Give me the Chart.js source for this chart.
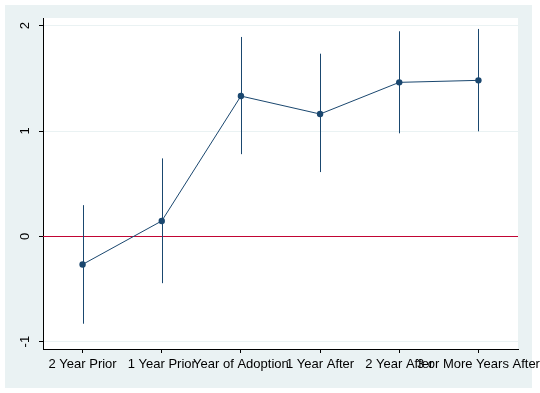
<!DOCTYPE html>
<html><head><meta charset="utf-8">
<script src="https://cdn.jsdelivr.net/npm/chart.js@4"></script>
<style>html,body{margin:0;padding:0;background:#fff}#wrap{width:540px;height:393px}</style>
</head><body><div id="wrap"><canvas id="c" width="540" height="393"></canvas></div>
<script>
const categories = ["2 Year Prior","1 Year Prior","Year of Adoption","1 Year After","2 Year After","3 or More Years After"];
const estimates = [-0.267, 0.146, 1.332, 1.161, 1.462, 1.481];
const ciLower = [-0.83, -0.445, 0.78, 0.61, 0.978, 0.997];
const ciUpper = [0.296, 0.74, 1.893, 1.734, 1.947, 1.969];
const yTicks = [-1, 0, 1, 2];
const refLine = 0;

const navy = '#1a476f';
const font = "'Liberation Sans', Arial, sans-serif";

const bgPlugin = {
  id: 'bg',
  beforeDraw(chart) {
    const ctx = chart.ctx, a = chart.chartArea;
    ctx.save();
    ctx.fillStyle = '#eaf2f3';
    ctx.fillRect(5, 5, 527, 383);
    ctx.fillStyle = '#ffffff';
    ctx.fillRect(a.left, a.top, a.right - a.left, a.bottom - a.top);
    ctx.restore();
  },
  beforeDatasetsDraw(chart) {
    const ctx = chart.ctx, a = chart.chartArea;
    const xs = chart.scales.x, ys = chart.scales.y;
    const y = Math.round(ys.getPixelForValue(refLine)) + 0.5;
    ctx.save();
    ctx.strokeStyle = '#c10534';
    ctx.lineWidth = 1;
    ctx.beginPath(); ctx.moveTo(a.left, y); ctx.lineTo(a.right, y); ctx.stroke();
    // confidence intervals (spikes)
    ctx.strokeStyle = navy;
    ctx.lineWidth = 1;
    categories.forEach((c, i) => {
      const px = Math.round(xs.getPixelForValue(i)) + 0.5;
      ctx.beginPath();
      ctx.moveTo(px, ys.getPixelForValue(ciLower[i]));
      ctx.lineTo(px, ys.getPixelForValue(ciUpper[i]));
      ctx.stroke();
    });
    ctx.restore();
  },
  afterDraw(chart) {
    const ctx = chart.ctx, ys = chart.scales.y;
    ctx.save();
    ctx.fillStyle = '#000';
    ctx.font = '13px ' + font;
    ctx.textAlign = 'center';
    ctx.textBaseline = 'middle';
    yTicks.forEach(v => {
      const py = ys.getPixelForValue(v);
      ctx.save();
      ctx.translate(25, py);
      ctx.rotate(-Math.PI / 2);
      ctx.fillText(String(v), 0, 0);
      ctx.restore();
    });
    ctx.restore();
  }
};

new Chart(document.getElementById('c'), {
  data: {
    labels: categories,
    datasets: [
      {
        type: 'line',
        data: estimates,
        borderColor: navy,
        backgroundColor: navy,
        borderWidth: 1,
        pointRadius: 3.2,
        pointBackgroundColor: navy,
        pointBorderWidth: 0,
        tension: 0
      }
    ]
  },
  options: {
    responsive: false,
    animation: false,
    devicePixelRatio: 1,
    layout: { padding: { top: 18, right: 22, left: 0, bottom: 0 } },
    plugins: { legend: { display: false }, tooltip: { enabled: false } },
    scales: {
      x: {
        type: 'category',
        offset: true,
        grid: { display: true, drawOnChartArea: false, drawTicks: true, tickLength: 4, tickColor: '#000', offset: false },
        border: { display: true, color: '#000', width: 1 },
        ticks: { autoSkip: false, maxRotation: 0, minRotation: 0, padding: 4, color: '#000', font: { family: font, size: 13 } },
        afterFit(s) { s.height = 44; s.paddingLeft = 0; s.paddingRight = 0; }
      },
      y: {
        type: 'linear',
        min: -1.07,
        max: 2.073,
        afterBuildTicks(s) { s.ticks = yTicks.map(v => ({ value: v })); },
        grid: { color: '#eaf2f3', tickColor: '#000', tickLength: 4, drawTicks: true },
        border: { display: true, color: '#000', width: 1 },
        ticks: { display: false },
        afterFit(s) { s.width = 43; s.paddingTop = 0; s.paddingBottom = 0; }
      }
    }
  },
  plugins: [bgPlugin]
});
</script>
</body></html>
